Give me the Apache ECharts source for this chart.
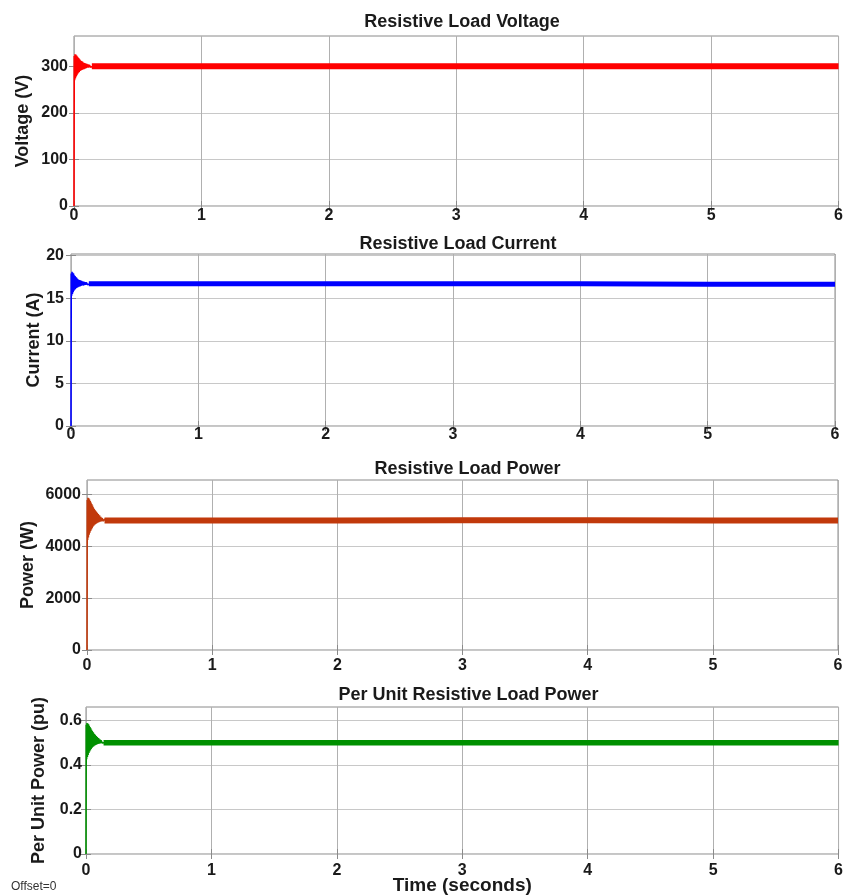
<!DOCTYPE html>
<html>
<head>
<meta charset="utf-8">
<script src="https://cdn.jsdelivr.net/npm/echarts@6/dist/echarts.min.js"></script>
<style>
  html, body { margin: 0; padding: 0; background: #fff; }
  #chart { width: 846px; height: 896px; }
</style>
</head>
<body>
<div id="chart"></div>
<script>
// start-up transient (seconds)
const timeStart = [0, 0.002, 0.005, 0.008, 0.011, 0.014, 0.017, 0.020, 0.023, 0.026, 0.029, 0.032,
  0.035, 0.038, 0.041, 0.044, 0.047, 0.050, 0.054, 0.058, 0.062, 0.066, 0.070, 0.074, 0.078,
  0.082, 0.086, 0.090, 0.095, 0.100, 0.105, 0.110, 0.115, 0.120, 0.130, 0.140, 0.150]
const voltageStart = [0, 322, 270, 326, 274, 325, 278, 323, 281, 321, 284, 319, 286, 317, 288, 315,
  290, 313, 291, 311, 292, 310, 293, 308, 294, 307, 295, 306, 296, 305, 297, 304, 297, 303, 298, 302, 300]
const currentStart = [0, 17.9, 15.3, 18.1, 15.5, 18.0, 15.7, 17.9, 15.9, 17.7, 16.0, 17.6, 16.1, 17.5,
  16.2, 17.4, 16.25, 17.3, 16.3, 17.2, 16.35, 17.15, 16.4, 17.1, 16.45, 17.05, 16.5, 17.0, 16.5, 16.95,
  16.55, 16.9, 16.6, 16.85, 16.6, 16.8, 16.7]
const powerStart = [0, 5800, 4250, 5880, 4350, 5860, 4450, 5820, 4530, 5760, 4600, 5700, 4660, 5640,
  4710, 5580, 4760, 5520, 4800, 5460, 4840, 5400, 4870, 5350, 4900, 5300, 4920, 5250, 4940, 5200,
  4960, 5150, 4970, 5100, 4980, 5060, 5000]
const puStart = [0, 0.58, 0.425, 0.588, 0.435, 0.586, 0.445, 0.582, 0.453, 0.576, 0.46, 0.57, 0.466,
  0.564, 0.471, 0.558, 0.476, 0.552, 0.48, 0.546, 0.484, 0.54, 0.487, 0.535, 0.49, 0.53, 0.492, 0.525,
  0.494, 0.52, 0.496, 0.515, 0.497, 0.51, 0.498, 0.506, 0.5]

// steady state (ripple band drawn as a thick line)
const timeSteady = [0.14, 1, 2, 3, 4, 5, 6]
const voltageSteady = [300, 300, 300, 300, 300, 300, 300]
const currentSteady = [16.7, 16.7, 16.7, 16.7, 16.7, 16.65, 16.65]
const powerSteady = [5000, 5000, 5000, 5010, 5010, 5000, 5000]
const puSteady = [0.5, 0.5, 0.5, 0.5, 0.5, 0.5, 0.5]

// tick labels
const timeTicks = [0, 1, 2, 3, 4, 5, 6]
const voltageTicks = [0, 100, 200, 300]
const currentTicks = [0, 5, 10, 15, 20]
const powerTicks = [0, 2000, 4000, 6000]
const puTicks = [0, 0.2, 0.4, 0.6]

const titles = ['Resistive Load Voltage', 'Resistive Load Current', 'Resistive Load Power', 'Per Unit Resistive Load Power']
const yNames = ['Voltage (V)', 'Current (A)', 'Power (W)', 'Per Unit Power (pu)']

const panels = [
  { left: 74, top: 36, right: 6, height: 170, max: 365, step: 100, ticks: voltageTicks, color: '#ff0000', band: 6,
    start: voltageStart, steady: voltageSteady, nameGap: 42, xMargin: 2, yMargin: 6, titleTop: 8 },
  { left: 71, top: 254, right: 11, height: 172, max: 20.2, step: 5, ticks: currentTicks, color: '#0000ff', band: 5,
    start: currentStart, steady: currentSteady, nameGap: 28, xMargin: 1, yMargin: 7, titleTop: 230 },
  { left: 87, top: 480, right: 8, height: 170, max: 6570, step: 2000, ticks: powerTicks, color: '#c1390b', band: 6,
    start: powerStart, steady: powerSteady, nameGap: 50, xMargin: 8, yMargin: 6, titleTop: 455 },
  { left: 86, top: 707, right: 5, height: 147, max: 0.66, step: 0.2, ticks: puTicks, color: '#009000', band: 5.5,
    start: puStart, steady: puSteady, nameGap: 38, xMargin: 9, yMargin: 4, titleTop: 681 }
]

const font = 'Liberation Sans, Arial, sans-serif'
const frame = '#8a8a8a'
const ink = '#1a1a1a'

const grid = []
const xAxis = []
const yAxis = []
const series = []
const title = []

panels.forEach((p, i) => {
  grid.push({ left: p.left, top: p.top, right: p.right, height: p.height,
    show: true, borderColor: frame, borderWidth: 1, backgroundColor: '#fff' })

  const xTick = { show: true, inside: true, length: 5, lineStyle: { color: frame }, customValues: timeTicks }
  const yTick = { show: true, inside: true, length: 5, lineStyle: { color: frame }, customValues: p.ticks }
  const labelStyle = { color: ink, fontWeight: 'bold', fontSize: 16, fontFamily: font, formatter: (v) => String(v) }

  xAxis.push({
    type: 'value', gridIndex: i, min: 0, max: 6, interval: 1,
    axisLine: { show: false }, axisTick: xTick,
    axisLabel: { ...labelStyle, margin: p.xMargin, customValues: timeTicks },
    splitLine: { show: true, lineStyle: { color: '#b0b0b0', width: 1 } },
    name: i === 3 ? 'Time (seconds)' : '', nameLocation: 'middle', nameGap: 22, nameMoveOverlap: false,
    nameTextStyle: { color: ink, fontWeight: 'bold', fontSize: 19, fontFamily: font }
  })
  xAxis.push({
    type: 'value', gridIndex: i, min: 0, max: 6, interval: 1, position: 'top',
    axisLine: { show: false }, axisTick: xTick, axisLabel: { show: false }, splitLine: { show: false }
  })
  yAxis.push({
    type: 'value', gridIndex: i, min: 0, max: p.max, interval: p.step,
    axisLine: { show: false }, axisTick: yTick,
    axisLabel: { ...labelStyle, margin: p.yMargin, customValues: p.ticks },
    splitLine: { show: true, lineStyle: { color: '#c8c8c8', width: 1 } },
    name: yNames[i], nameLocation: 'middle', nameGap: p.nameGap, nameMoveOverlap: false,
    nameTextStyle: { color: ink, fontWeight: 'bold', fontSize: 18, fontFamily: font }
  })
  yAxis.push({
    type: 'value', gridIndex: i, min: 0, max: p.max, interval: p.step, position: 'right',
    axisLine: { show: false }, axisTick: yTick, axisLabel: { show: false }, splitLine: { show: false }
  })

  const xi = i * 2
  const yi = i * 2
  series.push({
    type: 'line', xAxisIndex: xi, yAxisIndex: yi, showSymbol: false, silent: true,
    lineStyle: { color: p.color, width: p.band }, z: 3,
    data: timeSteady.map((t, k) => [t, p.steady[k]])
  })
  series.push({
    type: 'line', xAxisIndex: xi, yAxisIndex: yi, showSymbol: false, silent: true,
    lineStyle: { color: p.color, width: 1.6 }, z: 4,
    data: timeStart.map((t, k) => [t, p.start[k]])
  })

  title.push({
    text: titles[i], left: p.left + (846 - p.left - p.right) / 2, top: p.titleTop, textAlign: 'center',
    textStyle: { color: ink, fontWeight: 'bold', fontSize: 18, fontFamily: font }
  })
})

const chart = echarts.init(document.getElementById('chart'))
chart.setOption({
  animation: false,
  backgroundColor: '#fff',
  title,
  grid,
  xAxis,
  yAxis,
  series,
  graphic: [{
    type: 'text', left: 11, top: 881,
    style: { text: 'Offset=0', fill: '#333', fontSize: 12, fontFamily: font }
  }]
})

window.addEventListener('resize', () => chart.resize())
</script>
</body>
</html>
